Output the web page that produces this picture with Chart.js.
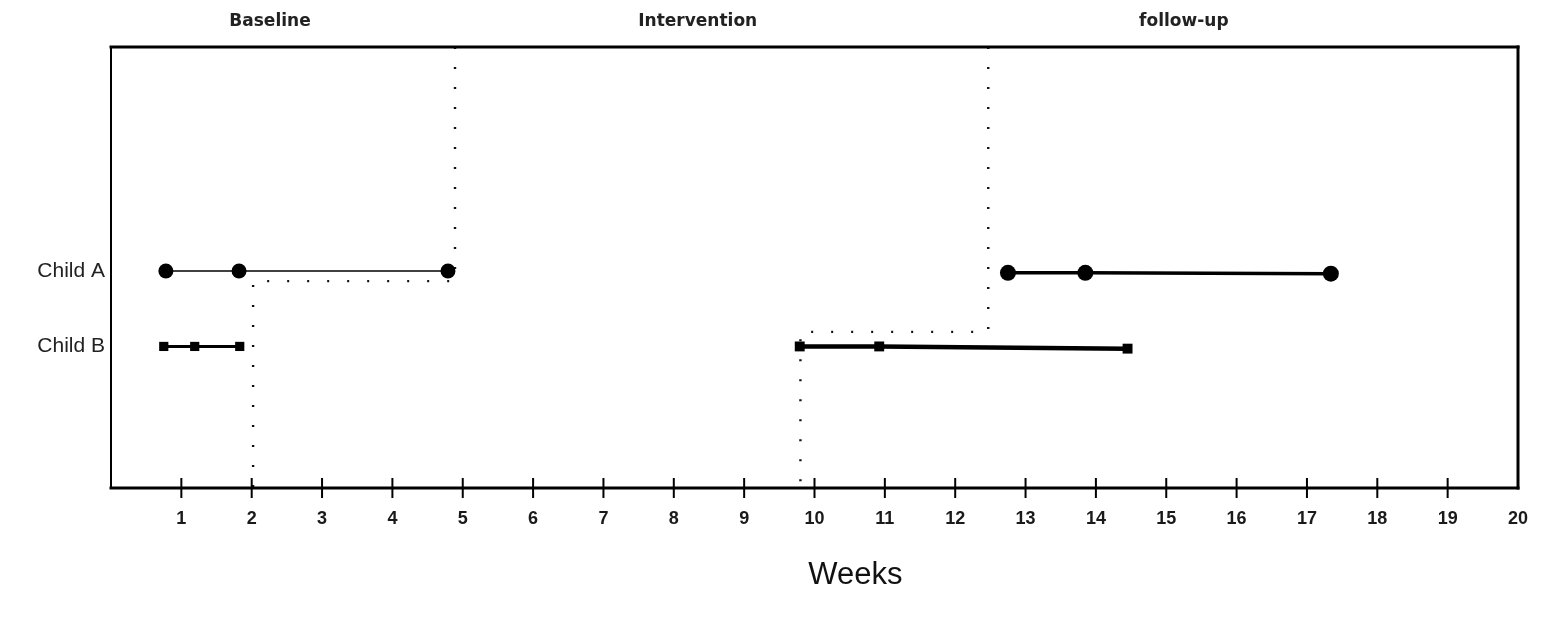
<!DOCTYPE html>
<html>
<head>
<meta charset="utf-8">
<script src="https://cdn.jsdelivr.net/npm/chart.js@4.4.1/dist/chart.umd.min.js"></script>
<style>
  html, body { margin: 0; padding: 0; background: #fff; }
  #wrap { width: 1545px; height: 628px; position: relative; }
</style>
</head>
<body>
<div id="wrap"><canvas id="c" width="1545" height="628"></canvas></div>
<script>
// ---- data ----
const weekTicks = [1,2,3,4,5,6,7,8,9,10,11,12,13,14,15,16,17,18,19,20];
const rowLabels = ['Child A', 'Child B'];
const rowValues = [49.2, 32.1];
const phaseLabels = ['Baseline', 'Intervention', 'follow-up'];
const phaseCenters = [2.26, 8.34, 15.25];
const axisTitle = 'Weeks';
const axisTitleCenter = 10.58;

const childABaselineX = [0.78, 1.82, 4.79];
const childABaselineY = [49.2, 49.2, 49.2];
const childAFollowX = [12.75, 13.85, 17.34];
const childAFollowY = [48.8, 48.8, 48.6];
const childBBaselineX = [0.75, 1.19, 1.83];
const childBBaselineY = [32.1, 32.1, 32.1];
const childBInterX = [9.79, 10.92, 14.45];
const childBInterY = [32.1, 32.1, 31.6];

const phaseLine1X = [4.89, 4.89, 2.02, 2.02];
const phaseLine1Y = [100, 46.9, 46.9, 0];
const phaseLine2X = [12.47, 12.47, 9.8, 9.8];
const phaseLine2Y = [100, 35.4, 35.4, 0];

const pts = (xs, ys) => xs.map((x, i) => ({ x: x, y: ys[i] }));

const FONT = "'Liberation Sans', Arial, sans-serif";

const framePlugin = {
  id: 'frame',
  afterDraw(chart) {
    const ctx = chart.ctx;
    const a = chart.chartArea;
    ctx.save();
    ctx.strokeStyle = '#000';
    ctx.lineCap = 'square';
    ctx.lineWidth = 3;
    ctx.beginPath(); ctx.moveTo(a.left, a.top); ctx.lineTo(a.right, a.top); ctx.stroke();
    ctx.beginPath(); ctx.moveTo(a.right, a.top); ctx.lineTo(a.right, a.bottom); ctx.stroke();
    ctx.beginPath(); ctx.moveTo(a.left, a.bottom); ctx.lineTo(a.right, a.bottom); ctx.stroke();
    ctx.lineWidth = 2;
    ctx.beginPath(); ctx.moveTo(a.left, a.top); ctx.lineTo(a.left, a.bottom); ctx.stroke();
    const xs = chart.scales.x;
    ctx.lineWidth = 2;
    ctx.lineCap = 'butt';
    xs.ticks.forEach(t => {
      if (t.value >= 20) return;
      const px = xs.getPixelForValue(t.value);
      ctx.beginPath(); ctx.moveTo(px, a.bottom - 10); ctx.lineTo(px, a.bottom + 10); ctx.stroke();
    });
    // axis title
    ctx.fillStyle = '#111';
    ctx.font = "31px " + FONT;
    ctx.textAlign = 'center';
    ctx.textBaseline = 'middle';
    ctx.fillText(axisTitle, xs.getPixelForValue(axisTitleCenter), 575);
    ctx.restore();
  }
};

new Chart(document.getElementById('c'), {
  type: 'scatter',
  data: {
    datasets: [
      { data: pts(phaseLine1X, phaseLine1Y), showLine: true, borderColor: '#111', borderWidth: 2.4,
        borderDash: [2, 18], pointRadius: 0, order: 10 },
      { data: pts(phaseLine2X, phaseLine2Y), showLine: true, borderColor: '#111', borderWidth: 2.4,
        borderDash: [2, 18], pointRadius: 0, order: 10 },
      { data: pts(childABaselineX, childABaselineY), showLine: true, borderColor: '#000', borderWidth: 1.5,
        pointStyle: 'circle', pointRadius: 7.5, pointBackgroundColor: '#000', pointBorderColor: '#000', pointBorderWidth: 0 },
      { data: pts(childAFollowX, childAFollowY), showLine: true, borderColor: '#000', borderWidth: 3.5,
        pointStyle: 'circle', pointRadius: 8, pointBackgroundColor: '#000', pointBorderColor: '#000', pointBorderWidth: 0 },
      { data: pts(childBBaselineX, childBBaselineY), showLine: true, borderColor: '#000', borderWidth: 3,
        pointStyle: 'rect', pointRadius: 6.5, pointBackgroundColor: '#000', pointBorderColor: '#000', pointBorderWidth: 0 },
      { data: pts(childBInterX, childBInterY), showLine: true, borderColor: '#000', borderWidth: 4.5,
        pointStyle: 'rect', pointRadius: 7, pointBackgroundColor: '#000', pointBorderColor: '#000', pointBorderWidth: 0 }
    ]
  },
  options: {
    responsive: false,
    animation: false,
    events: [],
    layout: { padding: { top: 0, right: 27, bottom: 0, left: 0 } },
    plugins: { legend: { display: false }, tooltip: { enabled: false }, title: { display: false } },
    scales: {
      x: {
        type: 'linear', position: 'bottom', min: 0, max: 20,
        afterBuildTicks: s => { s.ticks = weekTicks.map(v => ({ value: v })); },
        afterFit: s => { s.height = 140; s.paddingLeft = 0; s.paddingRight = 0; },
        grid: { display: true, drawOnChartArea: false, drawTicks: false, tickLength: 0 },
        border: { display: false },
        ticks: { color: '#1a1a1a', font: { family: FONT, size: 18, weight: 'bold' }, padding: 20, maxRotation: 0, autoSkip: false,
                 callback: v => String(v) },
        title: { display: false }
      },
      xTop: {
        type: 'linear', position: 'top', min: 0, max: 20,
        afterBuildTicks: s => { s.ticks = phaseCenters.map(v => ({ value: v })); },
        afterFit: s => { s.height = 47; s.paddingLeft = 0; s.paddingRight = 0; },
        grid: { display: false, drawTicks: false },
        border: { display: false },
        ticks: { color: '#222', font: { family: "'DejaVu Sans', sans-serif", size: 17, weight: 'bold' }, padding: 15, maxRotation: 0, autoSkip: false,
                 callback: (v, i) => phaseLabels[i] }
      },
      y: {
        type: 'linear', position: 'left', min: 0, max: 100,
        afterBuildTicks: s => { s.ticks = rowValues.map(v => ({ value: v })); },
        afterFit: s => { s.width = 111; s.paddingTop = 0; s.paddingBottom = 0; },
        grid: { display: false, drawTicks: false },
        border: { display: false },
        ticks: { color: '#222', font: { family: FONT, size: 21 }, padding: 6, autoSkip: false,
                 callback: (v, i) => rowLabels[i] }
      }
    }
  },
  plugins: [framePlugin]
});
</script>
</body>
</html>
